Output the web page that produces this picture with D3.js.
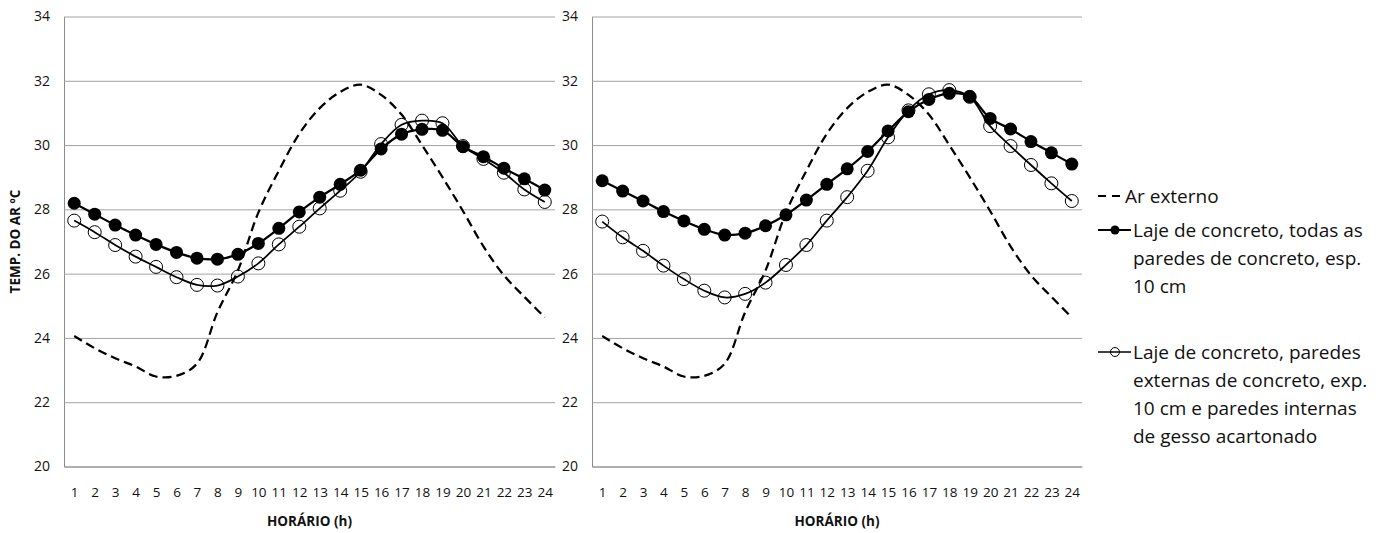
<!DOCTYPE html>
<html>
<head>
<meta charset="utf-8">
<script src="https://cdn.jsdelivr.net/npm/d3@7"></script>
<style>
  body { margin: 0; background: #fff; }
  text { font-family: "Open Sans", "Noto Sans", sans-serif; fill: #111; }
</style>
</head>
<body>
<div id="chart"></div>
<script>
// hours of the day (x categories)
const hours = [1, 2, 3, 4, 5, 6, 7, 8, 9, 10, 11, 12, 13, 14, 15, 16, 17, 18, 19, 20, 21, 22, 23, 24];
const yTicks = [20, 22, 24, 26, 28, 30, 32, 34];

// outdoor air, same in both panels
const arExterno = [24.06, 23.68, 23.37, 23.11, 22.80, 22.82, 23.20, 24.80, 26.10, 27.90, 29.20, 30.35,
                   31.15, 31.65, 31.88, 31.56, 30.95, 30.00, 29.00, 27.95, 26.85, 25.95, 25.28, 24.64];

// left panel
const leftTodas = [28.19, 27.85, 27.51, 27.20, 26.91, 26.66, 26.48, 26.45, 26.60, 26.94, 27.41, 27.92,
                   28.38, 28.78, 29.22, 29.88, 30.34, 30.49, 30.46, 29.95, 29.64, 29.28, 28.95, 28.60];
const leftGesso = [27.65, 27.29, 26.89, 26.53, 26.21, 25.89, 25.65, 25.63, 25.91, 26.32, 26.91, 27.46,
                   28.03, 28.58, 29.17, 30.03, 30.63, 30.76, 30.68, 29.97, 29.57, 29.14, 28.62, 28.23];

// right panel
const rightTodas = [28.89, 28.57, 28.26, 27.93, 27.64, 27.38, 27.20, 27.26, 27.49, 27.83, 28.29, 28.78,
                    29.26, 29.80, 30.44, 31.04, 31.42, 31.61, 31.51, 30.83, 30.50, 30.11, 29.76, 29.41];
const rightGesso = [27.62, 27.13, 26.71, 26.25, 25.83, 25.47, 25.26, 25.37, 25.72, 26.27, 26.89, 27.65,
                    28.38, 29.20, 30.24, 31.08, 31.58, 31.71, 31.50, 30.59, 29.97, 29.38, 28.81, 28.26];

const legendLabels = [
  ["Ar externo"],
  ["Laje de concreto, todas as", "paredes de concreto, esp.", "10 cm"],
  ["Laje de concreto, paredes", "externas de concreto, exp.", "10 cm e paredes internas", "de gesso acartonado"]
];

const width = 1394, height = 533;
const plotTop = 16.5, plotBottom = 466.5;

const svg = d3.select("#chart")
  .append("svg")
  .attr("width", width)
  .attr("height", height);

const y = d3.scaleLinear().domain([20, 34]).range([plotBottom, plotTop]);

const panels = [
  { left: 64, right: 555, todas: leftTodas, gesso: leftGesso },
  { left: 592, right: 1082, todas: rightTodas, gesso: rightGesso }
];

const line = x => d3.line()
  .x((d, i) => x(hours[i]))
  .y(d => y(d))
  .curve(d3.curveCatmullRom.alpha(0.5));

panels.forEach(p => {
  const x = d3.scalePoint().domain(hours).range([p.left, p.right]).padding(0.5);
  const g = svg.append("g");

  // gridlines + y labels
  const ya = g.append("g")
    .attr("transform", `translate(${p.left},0)`)
    .call(d3.axisLeft(y).tickValues(yTicks).tickSize(-(p.right - p.left)).tickSizeOuter(0).tickPadding(14));
  ya.selectAll(".tick line").attr("stroke", "#a3a3a3");
  ya.select(".domain").attr("stroke", "#8c8c8c");
  ya.selectAll("text").style("font-size", "14px").style("font-family", "'Open Sans', sans-serif").attr("fill", "#111");

  // x axis
  const xa = g.append("g")
    .attr("transform", `translate(0,${plotBottom})`)
    .call(d3.axisBottom(x).tickSize(0).tickPadding(21));
  xa.select(".domain").attr("stroke", "#8c8c8c");
  xa.selectAll("text").style("font-size", "13.5px").style("font-family", "'Open Sans', sans-serif").attr("fill", "#111");

  g.append("text")
    .attr("x", (p.left + p.right) / 2)
    .attr("y", 526)
    .attr("text-anchor", "middle")
    .style("font-size", "13.5px")
    .style("font-weight", "bold")
    .text("HORÁRIO (h)");

  // outdoor air, dashed
  g.append("path")
    .datum(arExterno)
    .attr("d", line(x))
    .attr("fill", "none")
    .attr("stroke", "#000")
    .attr("stroke-width", 2.25)
    .attr("stroke-dasharray", "9,5");

  // gypsum internal walls, open circles
  g.append("path")
    .datum(p.gesso)
    .attr("d", line(x))
    .attr("fill", "none")
    .attr("stroke", "#000")
    .attr("stroke-width", 1.75);
  g.selectAll(".open")
    .data(p.gesso)
    .join("circle")
    .attr("class", "open")
    .attr("cx", (d, i) => x(hours[i]))
    .attr("cy", d => y(d))
    .attr("r", 6.5)
    .attr("fill", "none")
    .attr("stroke", "#000")
    .attr("stroke-width", 1);

  // all concrete walls, filled circles
  g.append("path")
    .datum(p.todas)
    .attr("d", line(x))
    .attr("fill", "none")
    .attr("stroke", "#000")
    .attr("stroke-width", 2.25);
  g.selectAll(".filled")
    .data(p.todas)
    .join("circle")
    .attr("class", "filled")
    .attr("cx", (d, i) => x(hours[i]))
    .attr("cy", d => y(d))
    .attr("r", 6.5)
    .attr("fill", "#000");
});

// y axis title (left panel only)
svg.append("text")
  .attr("transform", `translate(20,${(plotTop + plotBottom) / 2}) rotate(-90)`)
  .attr("text-anchor", "middle")
  .style("font-size", "13.5px")
  .style("font-weight", "bold")
  .text("TEMP. DO AR ºC");

// legend
const lg = svg.append("g");
const legendY = [196, 230, 352];
const lineH = 28;

lg.append("line")
  .attr("x1", 1098).attr("x2", 1121)
  .attr("y1", legendY[0]).attr("y2", legendY[0])
  .attr("stroke", "#000").attr("stroke-width", 2)
  .attr("stroke-dasharray", "8,6");

lg.append("line")
  .attr("x1", 1098).attr("x2", 1131)
  .attr("y1", legendY[1]).attr("y2", legendY[1])
  .attr("stroke", "#000").attr("stroke-width", 2);
lg.append("circle")
  .attr("cx", 1115).attr("cy", legendY[1]).attr("r", 4.5)
  .attr("fill", "#000");

lg.append("line")
  .attr("x1", 1098).attr("x2", 1131)
  .attr("y1", legendY[2]).attr("y2", legendY[2])
  .attr("stroke", "#000").attr("stroke-width", 1.5);
lg.append("circle")
  .attr("cx", 1115).attr("cy", legendY[2]).attr("r", 4.5)
  .attr("fill", "none").attr("stroke", "#000").attr("stroke-width", 1);

legendLabels.forEach((lines, k) => {
  const t = lg.append("text")
    .style("font-size", "19px");
  lines.forEach((s, j) => {
    t.append("tspan")
      .attr("x", k === 0 ? 1125 : 1133)
      .attr("y", legendY[k] + j * lineH)
      .attr("dy", "0.35em")
      .text(s);
  });
});
</script>
</body>
</html>
